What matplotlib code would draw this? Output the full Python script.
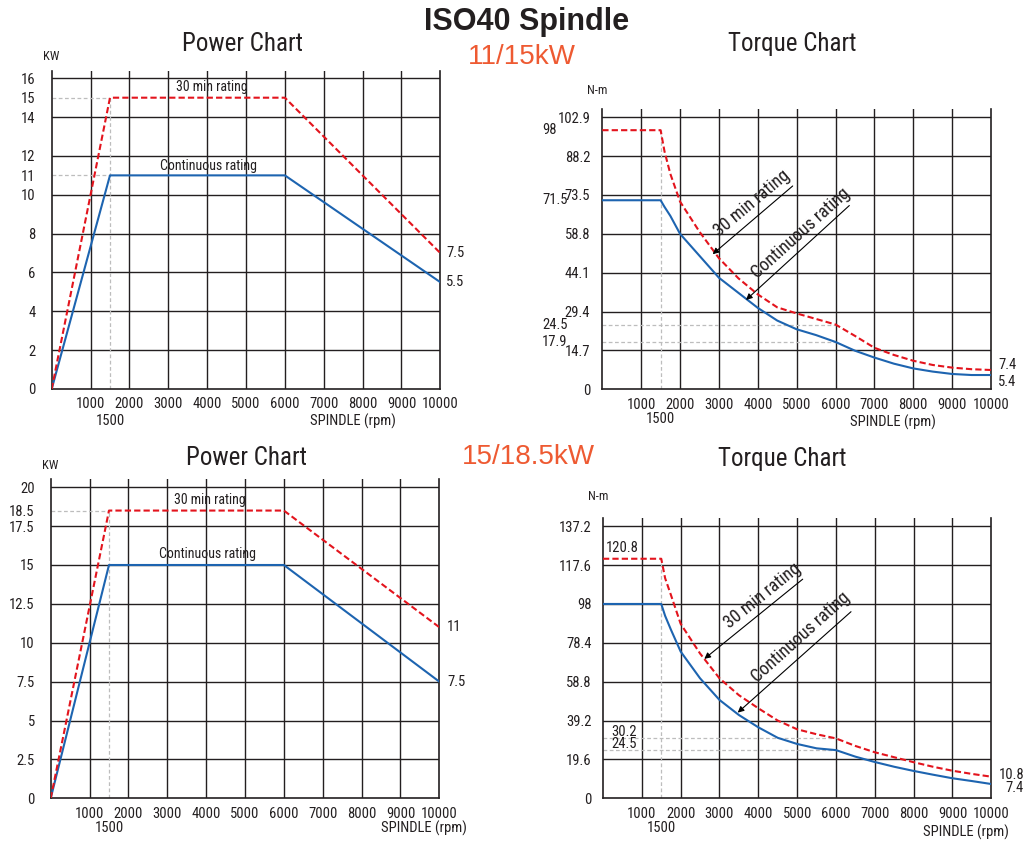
import matplotlib
matplotlib.use("Agg")
import matplotlib.pyplot as plt

plt.rcParams['font.family'] = ['Liberation Sans Narrow', 'Arial Narrow', 'Roboto Condensed',
                               'Liberation Sans', 'DejaVu Sans']

# ---- data ----
rpm_grid = [1000, 2000, 3000, 4000, 5000, 6000, 7000, 8000, 9000]
rpm_labels = ['1000', '2000', '3000', '4000', '5000', '6000', '7000', '8000', '9000', '10000']

# power charts (kW)
pw_rpm = [0, 1500, 6000, 10000]
pw1_30min = [0, 15, 15, 7.0]
pw1_cont = [0, 11, 11, 5.5]
pw2_30min = [0, 18.5, 18.5, 11]
pw2_cont = [0, 15, 15, 7.5]

pw1_yticks = [0, 2, 4, 6, 8, 10, 11, 12, 14, 15, 16]
pw1_ygrid = [2, 4, 6, 8, 10, 12, 14, 16]
pw2_yticks = [0, 2.5, 5, 7.5, 10, 12.5, 15, 17.5, 18.5, 20]
pw2_ylabels = ['0', '2.5', '5', '7.5', '10', '12.5', '15', '17.5', '18.5', '20']
pw2_ygrid = [2.5, 5, 7.5, 10, 12.5, 15, 17.5, 20]

# torque charts (N-m)
tq_rpm = [0, 1500, 1600, 1750, 2000, 2500, 3000, 3500, 4000, 4500, 5000,
          5500, 6000, 6500, 7000, 7500, 8000, 8500, 9000, 9500, 10000]
tq1_30min = [98, 98, 90, 81.5, 71, 59.6, 49.6, 42.0, 35.9, 31.0, 28.7,
             26.6, 24.5, 20.2, 15.7, 13.0, 10.8, 9.2, 8.2, 7.6, 7.3]
tq1_cont = [71.5, 71.5, 69, 65.6, 58.8, 50.5, 42.2, 36.5, 30.8, 26.0, 22.7,
            20.5, 17.9, 14.6, 12.0, 9.7, 7.9, 6.7, 5.8, 5.4, 5.4]
tq2_30min = [120.8, 120.8, 111, 102.5, 88, 73, 60.5, 52, 45.4, 39.2, 34.8,
             32.3, 30.2, 26.4, 23.2, 20.7, 18.2, 15.9, 13.9, 12.3, 10.9]
tq2_cont = [98, 98, 92, 85, 74, 60.5, 49.6, 42.0, 35.8, 30.5, 27.4,
            25.2, 24.3, 21.0, 18.3, 15.9, 13.8, 11.9, 10.1, 8.7, 7.2]

tq1_ticks = [0, 14.7, 29.4, 44.1, 58.8, 73.5, 88.2, 102.9]
tq2_ticks = [0, 19.6, 39.2, 58.8, 78.4, 98, 117.6, 137.2]

RED = '#e3141d'
BLUE = '#1d64b0'
GRID = '#231f20'
HELP = '#bdbdbd'
ORANGE = '#ee5a32'
INK = '#231f20'

W, H = 1025, 844
fig = plt.figure(figsize=(W / 100, H / 100), dpi=100)


def add_ax(left, top, right, bottom):
    return fig.add_axes([left / W, 1 - bottom / H, (right - left) / W, (bottom - top) / H])


def ftext(x, y, s, **kw):
    fig.text(x / W, 1 - y / H, s, **kw)


def setup(ax, ytop, ygrid, yticks, ylabels, ypad):
    ax.set_xlim(0, 10000)
    ax.set_ylim(0, ytop)
    ax.spines['top'].set_visible(False)
    for s in ['left', 'right', 'bottom']:
        ax.spines[s].set_color(GRID)
        ax.spines[s].set_linewidth(1.2)
    for x in rpm_grid:
        ax.axvline(x, color=GRID, lw=1.0, zorder=1)
    for y in ygrid:
        ax.axhline(y, color=GRID, lw=1.0, zorder=1)
    ax.set_xticks(rpm_grid + [10000])
    ax.set_xticklabels(rpm_labels)
    ax.set_yticks(yticks)
    ax.set_yticklabels(ylabels)
    ax.tick_params(axis='x', length=0, pad=6, labelsize=10.5, colors=INK)
    ax.tick_params(axis='y', length=0, pad=ypad, labelsize=10.5, colors=INK)


def xlabels(ax, rpm_center, dy1, dy2):
    ax.annotate('1500', xy=(1500, 0), xycoords=('data', 'axes fraction'),
                xytext=(0, dy1), textcoords='offset pixels', ha='center', va='center',
                fontsize=10.5, color=INK)
    ax.annotate('SPINDLE (rpm)', xy=(rpm_center, 0), xycoords=('data', 'axes fraction'),
                xytext=(0, dy2), textcoords='offset pixels', ha='center', va='center',
                fontsize=10.5, color=INK)


def end_label(ax, s, y, dx, dy):
    ax.annotate(s, xy=(10000, y), xytext=(dx, dy), textcoords='offset pixels',
                ha='left', va='center', fontsize=10.5, color=INK, annotation_clip=False)


def rating_arrow(ax, text, head, tail, tpos, rot):
    ax.annotate('', xy=head, xytext=tail,
                arrowprops=dict(arrowstyle='-|>', color='black', lw=0.8,
                                mutation_scale=9, shrinkA=0, shrinkB=0), zorder=5)
    ax.text(tpos[0], tpos[1], text, rotation=rot, rotation_mode='anchor',
            ha='center', va='center', fontsize=13, color=INK, zorder=5)


def curves_power(ax, red, blue):
    ax.plot(pw_rpm, red, color=RED, lw=1.5, dashes=(3, 1.5), zorder=4)
    ax.plot(pw_rpm, blue, color=BLUE, lw=1.5, zorder=3)


def curves_torque(ax, red, blue):
    ax.plot(tq_rpm, red, color=RED, lw=1.5, dashes=(3, 1.5), zorder=4)
    ax.plot(tq_rpm, blue, color=BLUE, lw=1.5, zorder=3)


# ---------- top-left: power 11/15 kW ----------
ax1 = add_ax(51.7, 70.7, 440.3, 389)
setup(ax1, 16.39, pw1_ygrid, pw1_yticks, [str(v) for v in pw1_yticks], 11.5)
for yv in [pw1_30min[1], pw1_cont[1]]:
    ax1.plot([0, 1500], [yv, yv], color=HELP, lw=0.9, dashes=(3, 2), zorder=2)
ax1.plot([1500, 1500], [0, pw1_30min[1]], color=HELP, lw=0.9, dashes=(3, 2), zorder=2)
curves_power(ax1, pw1_30min, pw1_cont)
ax1.text(4117, 15.57, '30 min rating', ha='center', va='center', fontsize=10, color=INK)
ax1.text(4040, 11.48, 'Continuous rating', ha='center', va='center', fontsize=10, color=INK)
end_label(ax1, '7.5', pw1_30min[-1], 6, 0)
end_label(ax1, '5.5', pw1_cont[-1], 6, 0)
xlabels(ax1, 7750, -32, -32)

# ---------- top-right: torque 11/15 kW ----------
ax2 = add_ax(602.3, 109.3, 991, 389.3)
setup(ax2, 105.9, tq1_ticks[1:], tq1_ticks, [str(v) for v in tq1_ticks], 8.6)
for yv in [tq1_30min[12], tq1_cont[12]]:
    ax2.plot([0, 6000], [yv, yv], color=HELP, lw=0.9, dashes=(3, 2), zorder=2)
ax2.plot([1500, 1500], [0, tq1_30min[1]], color=HELP, lw=0.9, dashes=(3, 2), zorder=2)
curves_torque(ax2, tq1_30min, tq1_cont)
for s, yv in [('98', 98), ('71.5', 71.5), ('24.5', 24.5), ('17.9', 17.9)]:
    ax2.annotate(s, xy=(0, yv), xycoords=('axes fraction', 'data'), xytext=(-60, 0),
                 textcoords='offset pixels', ha='left', va='center', fontsize=10.5,
                 color=INK, annotation_clip=False)
rating_arrow(ax2, '30 min rating', (2840, 51.1), (4898, 76.9), (3850, 70.5), 40)
rating_arrow(ax2, 'Continuous rating', (3697, 33.8), (6355, 69.5), (5100, 59.2), 42)
end_label(ax2, '7.4', tq1_30min[-1], 7, 5)
end_label(ax2, '5.4', tq1_cont[-1], 7, -7)
xlabels(ax2, 7480, -30, -33)

# ---------- bottom-left: power 15/18.5 kW ----------
ax3 = add_ax(50.7, 479.3, 439.3, 798.3)
setup(ax3, 20.51, pw2_ygrid, pw2_yticks, pw2_ylabels, 11.5)
ax3.plot([0, 1500], [pw2_30min[1]] * 2, color=HELP, lw=0.9, dashes=(3, 2), zorder=2)
ax3.plot([1500, 1500], [0, pw2_30min[1]], color=HELP, lw=0.9, dashes=(3, 2), zorder=2)
curves_power(ax3, pw2_30min, pw2_cont)
ax3.text(4107, 19.18, '30 min rating', ha='center', va='center', fontsize=10, color=INK)
ax3.text(4040, 15.71, 'Continuous rating', ha='center', va='center', fontsize=10, color=INK)
end_label(ax3, '11', pw2_30min[-1], 8, 0)
end_label(ax3, '7.5', pw2_cont[-1], 8, 0)
xlabels(ax3, 9600, -30, -30)

# ---------- bottom-right: torque 15/18.5 kW ----------
ax4 = add_ax(603, 518.3, 991.3, 798.3)
setup(ax4, 141.2, tq2_ticks[1:], tq2_ticks, [str(v) for v in tq2_ticks], 8)
for yv in [tq2_30min[12], tq2_cont[12]]:
    ax4.plot([0, 6000], [yv, yv], color=HELP, lw=0.9, dashes=(3, 2), zorder=2)
ax4.plot([1500, 1500], [0, tq2_30min[1]], color=HELP, lw=0.9, dashes=(3, 2), zorder=2)
curves_torque(ax4, tq2_30min, tq2_cont)
ax4.text(80, 126.4, '120.8', ha='left', va='center', fontsize=10.5, color=INK)
ax4.text(206, 33.6, '30.2', ha='left', va='center', fontsize=10.5, color=INK)
ax4.text(206, 27.4, '24.5', ha='left', va='center', fontsize=10.5, color=INK)
rating_arrow(ax4, '30 min rating', (2609, 70.3), (5143, 110.5), (4100, 102.0), 39)
rating_arrow(ax4, 'Continuous rating', (3469, 43.2), (6387, 94.1), (5090, 81.0), 42)
end_label(ax4, '10.8', tq2_30min[-1], 8, 2)
end_label(ax4, '7.4', tq2_cont[-1], 14, -4)
xlabels(ax4, 9350, -30, -34)

# ---------- titles and unit labels ----------
ftext(527, 22, 'ISO40 Spindle', ha='center', va='center', fontsize=22, fontweight='bold',
      color=INK, family=['Liberation Sans', 'DejaVu Sans'])
ftext(522, 57, '11/15kW', ha='center', va='center', fontsize=20, color=ORANGE,
      family=['Liberation Sans', 'DejaVu Sans'])
ftext(528, 457, '15/18.5kW', ha='center', va='center', fontsize=20, color=ORANGE,
      family=['Liberation Sans', 'DejaVu Sans'])
ftext(243, 44, 'Power Chart', ha='center', va='center', fontsize=18, color=INK)
ftext(792, 44, 'Torque Chart', ha='center', va='center', fontsize=18, color=INK)
ftext(247, 458, 'Power Chart', ha='center', va='center', fontsize=18, color=INK)
ftext(782, 459, 'Torque Chart', ha='center', va='center', fontsize=18, color=INK)
ftext(51, 56, 'KW', ha='center', va='center', fontsize=9, color=INK)
ftext(50, 465, 'KW', ha='center', va='center', fontsize=9, color=INK)
ftext(597, 91, 'N-m', ha='center', va='center', fontsize=9, color=INK)
ftext(598, 497, 'N-m', ha='center', va='center', fontsize=9, color=INK)

fig.savefig('out.png', dpi=100)
